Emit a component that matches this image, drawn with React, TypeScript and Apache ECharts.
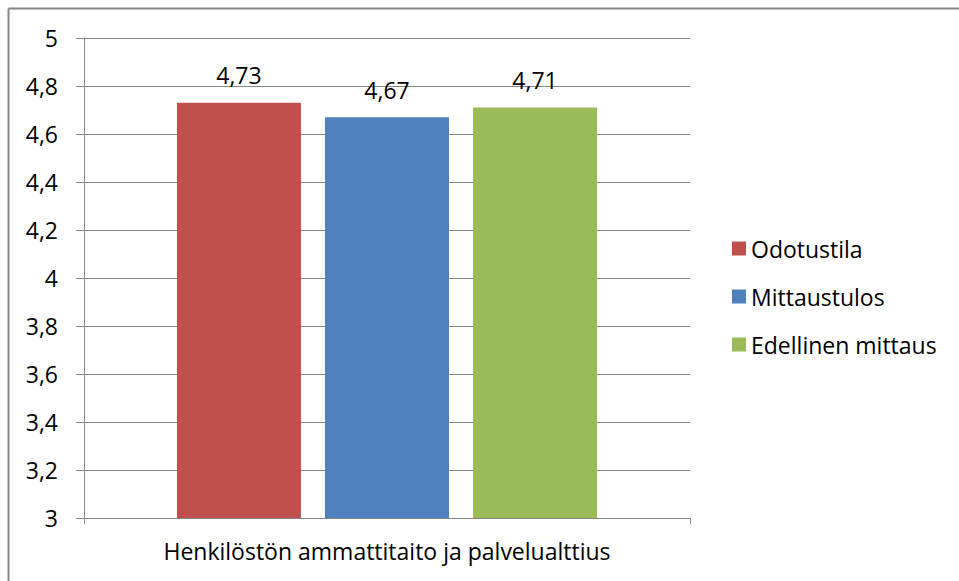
import React, { useEffect, useRef } from "react";
import * as echarts from "echarts";

const categories = ["Henkilöstön ammattitaito ja palvelualttius"];
const seriesNames = ["Odotustila", "Mittaustulos", "Edellinen mittaus"];
const odotustila = [4.73];
const mittaustulos = [4.67];
const edellinen = [4.71];
const colors = ["#C0504D", "#4F81BD", "#9BBB59"];

const FONT = "'Open Sans', sans-serif";
const FS = 23;
const fmt = (v: number) => String(v).replace(".", ",");

export default function App() {
  const ref = useRef<HTMLDivElement>(null);
  useEffect(() => {
    if (!ref.current) return;
    const chart = echarts.init(ref.current, null, { renderer: "svg" });
    const values = [odotustila, mittaustulos, edellinen];
    chart.setOption({
      animation: false,
      backgroundColor: "#ffffff",
      textStyle: { fontFamily: FONT },
      grid: { left: 84, top: 38, right: 269, bottom: 63, containLabel: false },
      legend: {
        orient: "vertical",
        left: 727,
        top: 232,
        itemWidth: 14,
        itemHeight: 14,
        itemGap: 25,
        icon: "rect",
        textStyle: { fontFamily: FONT, fontSize: FS, color: "#000" },
        data: seriesNames,
      },
      xAxis: {
        type: "category",
        data: categories,
        axisLine: { lineStyle: { color: "#868686", width: 1 } },
        axisTick: { show: true, length: 6, lineStyle: { color: "#868686" } },
        axisLabel: { fontFamily: FONT, fontSize: FS, color: "#000", margin: 21 },
      },
      yAxis: {
        type: "value",
        min: 3,
        max: 5,
        interval: 0.2,
        axisLine: { show: true, lineStyle: { color: "#868686", width: 1 } },
        axisTick: { show: true, length: 8, lineStyle: { color: "#868686" } },
        splitLine: { lineStyle: { color: "#868686", width: 1 } },
        axisLabel: {
          fontFamily: FONT,
          fontSize: FS,
          color: "#000",
          margin: 26,
          formatter: (v: number) => fmt(Math.round(v * 10) / 10),
        },
      },
      series: seriesNames.map((name, i) => ({
        name,
        type: "bar",
        data: values[i],
        barWidth: 124,
        barGap: "19.4%",
        itemStyle: { color: colors[i] },
        label: {
          show: true,
          position: "top",
          distance: 16,
          fontFamily: FONT,
          fontSize: FS,
          color: "#000",
          formatter: (p: any) => fmt(p.value),
        },
      })),
      graphic: [
        { type: "line", shape: { x1: 8.5, y1: 8.5, x2: 959, y2: 8.5 }, style: { stroke: "#868686", lineWidth: 2 } },
        { type: "line", shape: { x1: 8.5, y1: 8.5, x2: 8.5, y2: 581 }, style: { stroke: "#868686", lineWidth: 2 } },
      ],
    });
    return () => chart.dispose();
  }, []);
  return (
    <div
      ref={ref}
      style={{ position: "fixed", left: 0, top: 0, width: 959, height: 581 }}
    />
  );
}
